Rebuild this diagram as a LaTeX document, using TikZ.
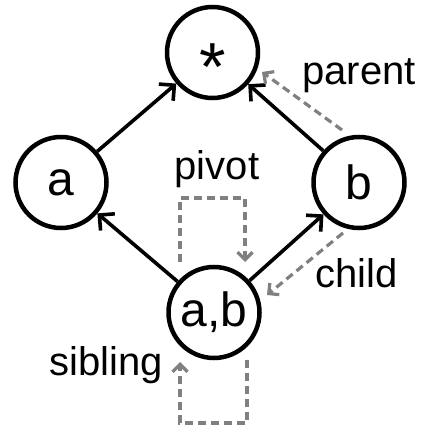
\documentclass[tikz,border=0pt]{standalone}
\usepackage{fontspec}
\setmainfont{Liberation Sans}
\usetikzlibrary{arrows.meta}
\definecolor{relgray}{RGB}{128,128,128}
\begin{document}
\begin{tikzpicture}[x=1pt,y=-1pt,
  vert/.style={circle,draw,line width=4.5pt,minimum size=91pt,inner sep=0pt,font=\fontsize{48}{48}\selectfont},
  edge/.style={line width=3.6pt,-{Straight Barb[length=11pt,width=22pt]}},
  rel/.style={line width=3.2pt,draw=relgray,dash pattern=on 8pt off 5pt,-{Straight Barb[length=7.5pt,width=15pt]}},
  lbl/.style={anchor=base west,inner sep=0pt,font=\fontsize{40}{40}\selectfont}]
\useasboundingbox (0,0) rectangle (423,430);
\node[vert] (star) at (212.5,52.5) {\raisebox{-38pt}[0pt][0pt]{\fontsize{68}{68}\selectfont *}};
\node[vert] (a) at (61,182.5) {a};
\node[vert] (b) at (359,182.5) {b};
\node[vert] (ab) at (214,312.5) {a,b};
\draw[edge] (a) -- (star);
\draw[edge] (b) -- (star);
\draw[edge] (ab) -- (a);
\draw[edge] (ab) -- (b);
\coordinate (pS) at ([shift={(-17,-52.5)}]b.center);
\coordinate (pE) at ([shift={(49.5,19.5)}]star.center);
\coordinate (cS) at ([shift={(-16,50.5)}]b.center);
\coordinate (cE) at ([shift={(53,-17.5)}]ab.center);
\coordinate (vS) at ([shift={(-34,-50.5)}]ab.center);
\coordinate (vE) at ([shift={(31,-50.5)}]ab.center);
\coordinate (sS) at ([shift={(33,47.5)}]ab.center);
\coordinate (sE) at ([shift={(-34,49.5)}]ab.center);
\draw[rel] (pS) -- (pE);
\draw[rel] (cS) -- (cE);
\draw[rel] (vS) -- ++(0,-64) -| (vE);
\draw[rel] (sS) -- ++(0,63) -| (sE);
\node[lbl] (lparent) at (302,85) {parent};
\node[lbl] (lpivot) at (174.5,180) {pivot};
\node[lbl] (lchild) at (315.5,287) {child};
\node[lbl] (lsibling) at (49,375) {sibling};
\end{tikzpicture}
\end{document}
